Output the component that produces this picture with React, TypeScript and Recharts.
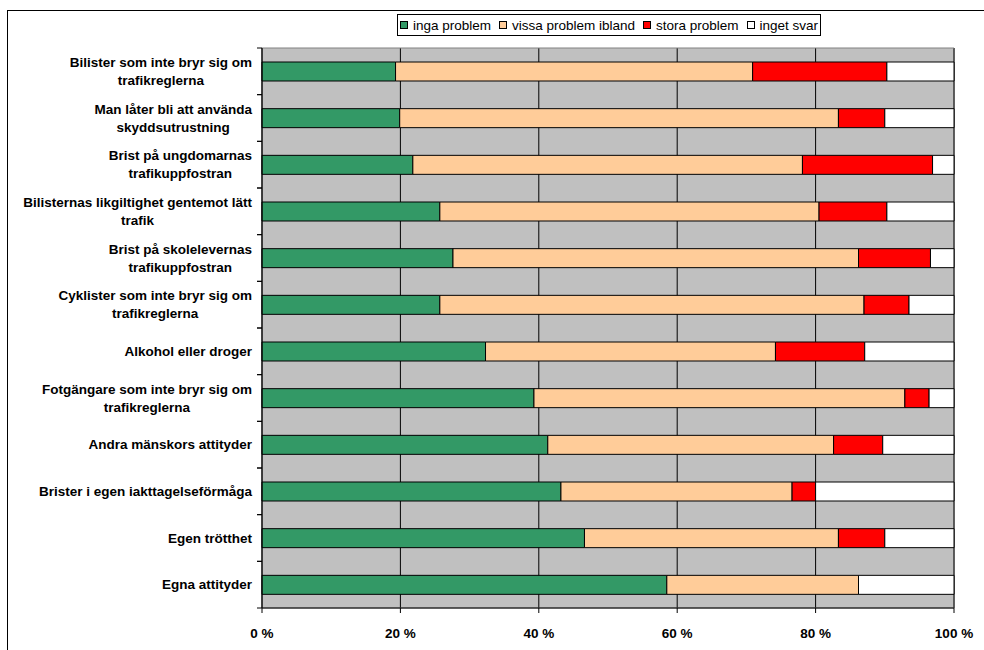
import React from "react";
import {
  BarChart,
  Bar,
  XAxis,
  YAxis,
  CartesianGrid,
  ReferenceArea,
} from "recharts";

// Problem areas, top to bottom ("\n" marks where the label wraps)
const categories = [
  "Bilister som inte bryr sig om\ntrafikreglerna",
  "Man låter bli att använda\nskyddsutrustning",
  "Brist på ungdomarnas\ntrafikuppfostran",
  "Bilisternas likgiltighet gentemot lätt\ntrafik",
  "Brist på skolelevernas\ntrafikuppfostran",
  "Cyklister som inte bryr sig om\ntrafikreglerna",
  "Alkohol eller droger",
  "Fotgängare som inte bryr sig om\ntrafikreglerna",
  "Andra mänskors attityder",
  "Brister i egen iakttagelseförmåga",
  "Egen trötthet",
  "Egna attityder",
];

// Share of answers (%) per category
const ingaProblem = [19.3, 19.9, 21.8, 25.7, 27.6, 25.7, 32.3, 39.3, 41.3, 43.2, 46.6, 58.5];
const vissaProblem = [51.6, 63.4, 56.3, 54.8, 58.6, 61.3, 41.9, 53.6, 41.3, 33.4, 36.7, 27.7];
const storaProblem = [19.4, 6.7, 18.8, 9.8, 10.4, 6.5, 12.9, 3.5, 7.1, 3.4, 6.7, 0];
const ingetSvar = [9.7, 10.0, 3.1, 9.7, 3.4, 6.5, 12.9, 3.6, 10.3, 20.0, 10.0, 13.8];

const seriesKeys = ["inga", "vissa", "stora", "inget"];
const seriesNames = ["inga problem", "vissa problem ibland", "stora problem", "inget svar"];
const seriesColors = ["#339966", "#FFCC99", "#FF0000", "#FFFFFF"];

const xTicks = [0, 20, 40, 60, 80, 100];

const data = categories.map((name, i) => ({
  name,
  inga: ingaProblem[i],
  vissa: vissaProblem[i],
  stora: storaProblem[i],
  inget: ingetSvar[i],
}));

const FONT = '"Liberation Sans", Arial, sans-serif';
const LABEL_SIZE = 13.5;
const LINE_GAP = 18;

let measureCtx: CanvasRenderingContext2D | null = null;
function textWidth(s: string) {
  if (!measureCtx) measureCtx = document.createElement("canvas").getContext("2d");
  if (!measureCtx) return s.length * 7;
  measureCtx.font = `bold ${LABEL_SIZE}px ${FONT}`;
  return measureCtx.measureText(s).width;
}

// category label, wrapped lines centred on each other, block right-aligned;
// also draws the small ticks on the band edges
function CategoryTick(props: any) {
  const { x, y, payload } = props;
  const lines = String(payload.value).split("\n");
  const widest = Math.max(...lines.map(textWidth));
  const cx = x - widest / 2;
  const half = payload.offset || 0;
  const axisX = x + 10;
  return (
    <g>
      <text
        textAnchor="middle"
        fontFamily={FONT}
        fontSize={LABEL_SIZE}
        fontWeight="bold"
        fill="#000"
      >
        {lines.map((line, i) => (
          <tspan key={i} x={cx} y={y + (i - (lines.length - 1) / 2) * LINE_GAP} dy="0.35em">
            {line}
          </tspan>
        ))}
      </text>
      {half > 0 && (
        <>
          <line x1={axisX - 5} x2={axisX} y1={y - half} y2={y - half} stroke="#000" />
          <line x1={axisX - 5} x2={axisX} y1={y + half} y2={y + half} stroke="#000" />
        </>
      )}
    </g>
  );
}

function LegendBox() {
  return (
    <div
      style={{
        position: "absolute",
        left: 397,
        top: 14,
        width: 422,
        height: 20,
        border: "1px solid #000",
        background: "#fff",
        display: "flex",
        alignItems: "center",
        justifyContent: "center",
        fontFamily: FONT,
        fontSize: 13.5,
        color: "#000",
        whiteSpace: "nowrap",
      }}
    >
      {seriesNames.map((name, i) => (
        <span key={name} style={{ display: "flex", alignItems: "center", marginLeft: i ? 8 : 0 }}>
          <span
            style={{
              width: 6,
              height: 6,
              border: "1px solid #000",
              background: seriesColors[i],
              marginRight: 5,
            }}
          />
          {name}
        </span>
      ))}
    </div>
  );
}

export default function App() {
  return (
    <div
      style={{
        position: "absolute",
        left: 0,
        top: 0,
        width: 984,
        height: 650,
        overflow: "hidden",
        background: "#fff",
      }}
    >
      <div
        style={{
          position: "absolute",
          left: 7,
          top: 10,
          width: 1100,
          height: 800,
          borderLeft: "1.5px solid #000",
          borderTop: "1.5px solid #000",
        }}
      />
      <LegendBox />
      <div style={{ position: "absolute", left: 0, top: 0 }}>
        <BarChart
          width={984}
          height={650}
          data={data}
          layout="vertical"
          margin={{ top: 48, right: 30, bottom: 2, left: 0 }}
          barSize={19}
        >
          <CartesianGrid
            horizontal={false}
            stroke="#000"
            fill="#C0C0C0"
            fillOpacity={1}
          />
          <ReferenceArea x1={0} x2={100} fill="none" stroke="#808080" ifOverflow="visible" />
          <XAxis
            type="number"
            domain={[0, 100]}
            ticks={xTicks}
            tickFormatter={(v) => `${v} %`}
            height={40}
            stroke="#000"
            tickSize={5}
            tickMargin={15}
            tick={{ fill: "#000", fontFamily: FONT, fontSize: LABEL_SIZE, fontWeight: "bold" }}
          />
          <YAxis
            type="category"
            dataKey="name"
            width={262}
            stroke="#000"
            tickLine={false}
            tickSize={5}
            tickMargin={5}
            interval={0}
            tick={<CategoryTick />}
          />
          {seriesKeys.map((key, i) => (
            <Bar
              key={key}
              dataKey={key}
              name={seriesNames[i]}
              stackId="a"
              fill={seriesColors[i]}
              stroke="#000"
              strokeWidth={1}
              isAnimationActive={false}
            />
          ))}
        </BarChart>
      </div>
    </div>
  );
}
